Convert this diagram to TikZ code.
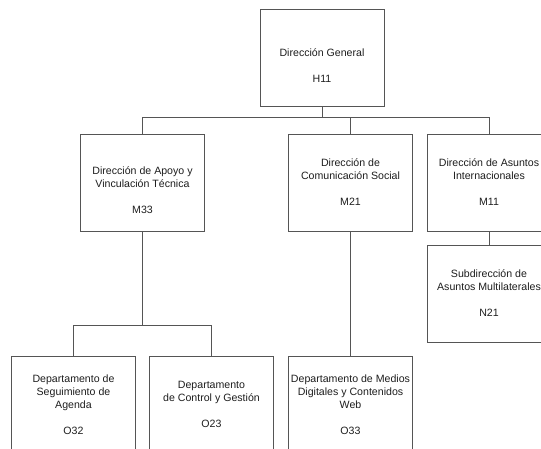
\documentclass[tikz,border=0pt]{standalone}
\usepackage{fontspec}
\setmainfont{Liberation Sans}
\usepackage{xcolor}
\usepackage{tikz}
\usetikzlibrary{arrows,shapes}

\definecolor{boxline}{RGB}{85,85,85}
\definecolor{boxtext}{RGB}{30,30,30}

\begin{document}
\begin{tikzpicture}[x=1pt,y=-1pt,
	unit/.style={draw=boxline, line width=0.7pt, fill=white, text=boxtext,
		minimum width=124pt, minimum height=97pt, inner sep=2pt,
		align=center, font=\fontsize{10.6}{13}\selectfont},
	link/.style={draw=boxline, line width=0.7pt}]
	\useasboundingbox (0,0) rectangle (541,448);
	\clip (0,0) rectangle (541,448);
	\node[unit] (dg) at (322,58) {\mbox{}\\[10pt]Dirección General\\[13pt]H11};
	\node[unit] (m33) at (142.5,182.5) {\mbox{}\\[10pt]Dirección de Apoyo y\\Vinculación Técnica\\[13pt]M33};
	\node[unit] (m21) at (350.5,182.5) {Dirección de\\Comunicación Social\\[13pt]M21};
	\node[unit] (m11) at (489,182.5) {Dirección de Asuntos\\Internacionales\\[13pt]M11};
	\node[unit] (n21) at (489,293.5) {Subdirección de\\Asuntos Multilaterales\\[13pt]N21};
	\node[unit] (o32) at (73.5,404.5) {Departamento de\\Seguimiento de\\Agenda\\[13pt]O32};
	\node[unit] (o23) at (211.5,404.5) {Departamento\\de Control y Gestión\\[13pt]O23};
	\node[unit] (o33) at (350.5,404.5) {Departamento de Medios\\Digitales y Contenidos\\Web\\[13pt]O33};
	\draw[link] (dg.south) -- ++(0,10.5) coordinate (hub);
	\draw[link] (hub) -| (m33.north);
	\draw[link] (hub) -| (m21.north);
	\draw[link] (hub) -| (m11.north);
	\draw[link] (m11) -- (n21);
	\draw[link] (m21) -- (o33);
	\draw[link] (m33.south) -- ++(0,94) coordinate (hubo);
	\draw[link] (hubo) -| (o32.north);
	\draw[link] (hubo) -| (o23.north);
\end{tikzpicture}
\end{document}
